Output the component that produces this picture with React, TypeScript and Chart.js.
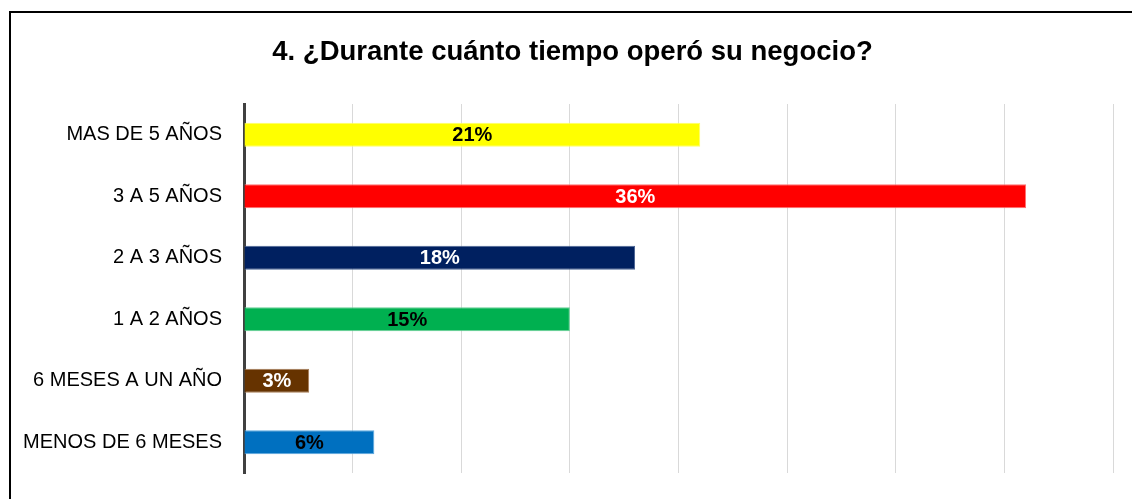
import React, { useEffect, useRef } from "react";
import { Chart, registerables } from "chart.js";

Chart.register(...registerables);

const TITLE = "4. ¿Durante cuánto tiempo operó su negocio?";
const categories = [
  "MAS DE 5 AÑOS",
  "3 A 5 AÑOS",
  "2 A 3 AÑOS",
  "1 A 2 AÑOS",
  "6 MESES A UN AÑO",
  "MENOS DE 6 MESES",
];
const values = [21, 36, 18, 15, 3, 6];
const barColors = ["#FFFF00", "#FF0000", "#002060", "#00B050", "#663300", "#0070C0"];
const barBorders = ["#FFFF66", "#FF7070", "#4A6494", "#66CF95", "#A87E58", "#5BA8E0"];
const labelColors = ["#000000", "#FFFFFF", "#FFFFFF", "#000000", "#FFFFFF", "#000000"];
const xMax = 40;
const xStep = 5;

const FONT = "'Liberation Sans', Arial, sans-serif";

const framePlugin = {
  id: "frame",
  beforeDraw(chart: any) {
    const ctx = chart.ctx;
    ctx.save();
    ctx.fillStyle = "#ffffff";
    ctx.fillRect(0, 0, chart.width, chart.height);
    ctx.strokeStyle = "#000000";
    ctx.lineWidth = 2;
    ctx.strokeRect(10, 12, chart.width + 20, chart.height + 20);
    ctx.fillStyle = "#000000";
    ctx.font = `bold 27.5px ${FONT}`;
    ctx.textAlign = "center";
    ctx.textBaseline = "middle";
    ctx.fillText(TITLE, 572.5, 52);
    ctx.restore();
  },
};

const valueLabelPlugin = {
  id: "valueLabels",
  afterDatasetsDraw(chart: any) {
    const ctx = chart.ctx;
    const meta = chart.getDatasetMeta(0);
    ctx.save();
    ctx.font = `bold 20px ${FONT}`;
    ctx.textAlign = "center";
    ctx.textBaseline = "middle";
    meta.data.forEach((bar: any, i: number) => {
      const cx = (bar.x + bar.base) / 2;
      ctx.fillStyle = labelColors[i];
      ctx.fillText(values[i] + "%", cx, bar.y + 1);
    });
    ctx.restore();
  },
};

export default function App() {
  const ref = useRef<HTMLCanvasElement | null>(null);
  useEffect(() => {
    if (!ref.current) return;
    const chart = new Chart(ref.current, {
      type: "bar",
      data: {
        labels: categories,
        datasets: [
          {
            data: values,
            backgroundColor: barColors,
            borderColor: barBorders,
            borderWidth: 1,
            barPercentage: 0.39,
            categoryPercentage: 1,
          },
        ],
      },
      options: {
        indexAxis: "y",
        responsive: false,
        animation: false,
        layout: { padding: { left: 0, right: 19, top: 104, bottom: 26 } },
        plugins: {
          legend: { display: false },
          tooltip: { enabled: false },
          title: { display: false },
        },
        scales: {
          x: {
            min: 0,
            max: xMax,
            afterFit(scale: any) {
              scale.height = 0;
              scale.paddingLeft = 0;
              scale.paddingRight = 0;
            },
            ticks: { display: false, stepSize: xStep },
            grid: { color: "#D9D9D9", lineWidth: 1, drawTicks: false },
            border: { display: false },
          },
          y: {
            afterFit(scale: any) {
              scale.width = 244;
              scale.paddingTop = 0;
              scale.paddingBottom = 0;
            },
            ticks: {
              color: "#000000",
              padding: 22,
              font: { family: FONT, size: 20 },
            },
            grid: { display: false, drawTicks: false },
            border: { display: true, color: "#404040", width: 3 },
          },
        },
      },
      plugins: [framePlugin, valueLabelPlugin],
    } as any);
    return () => chart.destroy();
  }, []);
  return (
    <div style={{ position: "fixed", left: 0, top: 0, width: 1132, height: 499, background: "#fff" }}>
      <canvas ref={ref} width={1132} height={499} style={{ display: "block" }} />
    </div>
  );
}
